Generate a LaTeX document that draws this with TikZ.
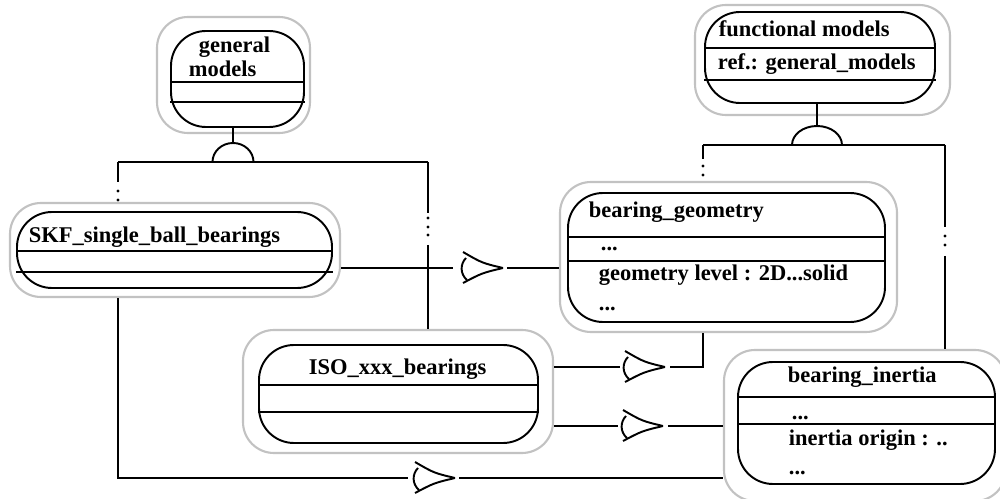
\documentclass[tikz,border=0pt]{standalone}
\usepackage{fontspec}
\setmainfont{Liberation Serif}
\usetikzlibrary{fit,calc}
\begin{document}
\begin{tikzpicture}[x=0.02cm,y=-0.02cm,
  line width=1.1pt,
  outbox/.style={draw=black!24, line width=1.2pt, rounded corners=0.62cm, inner sep=0pt, fit={#1}},
  inbox/.style={draw=black, line width=1.1pt, rounded corners=0.7cm, inner sep=0pt, fit={#1}},
  lbl/.style={anchor=base west, inner sep=0pt, font=\fontsize{12.8}{15}\selectfont\bfseries},
  pics/joint/.style={code={
    \draw (-40,-16) .. controls (-21,-5) .. (0,0);
    \draw (-40,15) .. controls (-21,5) .. (0,0);
    \draw (-37,-10) .. controls (-43,-4) and (-43,6) .. (-36,12);
  }}
]
\useasboundingbox (0,0) rectangle (1000,499);

% ---- classes ----
% general models
\node[outbox={(157,17) (310,133)}] (genO) {};
\node[inbox={(171,31) (304,127)}] (gen) {};
\draw (gen.west |- 0,82) -- (gen.east |- 0,82);
\draw (gen.west |- 0,102) -- (gen.east |- 0,102);
\node[lbl] (genT1) at (198,53) {general};
\node[lbl] (genT2) at (188,77) {models};

% functional models
\node[outbox={(695,5) (950,115)}] (funO) {};
\node[inbox={(705,12) (935,103)}] (fun) {};
\draw (fun.west |- 0,48) -- (fun.east |- 0,48);
\draw (fun.west |- 0,80) -- (fun.east |- 0,80);
\node[lbl] (funT1) at (718,37) {functional models};
\node[lbl] (funT2) at (717,70) {ref.: general\_models};

% SKF single ball bearings
\node[outbox={(10,203) (340,297)}] (skfO) {};
\node[inbox={(17,212) (332,288)}] (skf) {};
\draw (skf.west |- 0,251) -- (skf.east |- 0,251);
\draw (skf.west |- 0,272) -- (skf.east |- 0,272);
\node[lbl] (skfT) at (28,243) {SKF\_single\_ball\_bearings};

% bearing geometry
\node[outbox={(560,182) (897,332)}] (geoO) {};
\node[inbox={(568,193) (885,322)}] (geo) {};
\draw (geo.west |- 0,237) -- (geo.east |- 0,237);
\draw (geo.west |- 0,261) -- (geo.east |- 0,261);
\node[lbl] (geoT1) at (588,218) {bearing\_geometry};
\node[lbl] (geoT2) at (600,251) {...};
\node[lbl] (geoT3) at (598,281) {geometry level : 2D...solid};
\node[lbl] (geoT4) at (598,311) {...};

% ISO bearings
\node[outbox={(243,330) (553,453)}] (isoO) {};
\node[inbox={(259,345) (538,443)}] (iso) {};
\draw (iso.west |- 0,385) -- (iso.east |- 0,385);
\draw (iso.west |- 0,412) -- (iso.east |- 0,412);
\node[lbl] (isoT) at (308,375) {ISO\_xxx\_bearings};

% bearing inertia
\node[outbox={(724,350) (1006,501)}] (inO) {};
\node[inbox={(738,362) (995,484)}] (ine) {};
\draw (ine.west |- 0,397) -- (ine.east |- 0,397);
\draw (ine.west |- 0,424) -- (ine.east |- 0,424);
\node[lbl] (ineT1) at (787,383) {bearing\_inertia};
\node[lbl] (ineT2) at (791,419) {...};
\node[lbl] (ineT3) at (788,445) {inertia origin : ..};
\node[lbl] (ineT4) at (788,474) {...};

% ---- specialisation from general models ----
\coordinate (gJ) at (233,162);
\coordinate (gL) at (118,162);
\coordinate (gR) at (428,162);
\draw (gJ |- gen.south) -- (233,143);
\draw (212.5,162) arc[start angle=180,end angle=0,x radius=0.41cm,y radius=0.38cm];
\draw (gL) -- (gR);
\draw (gL) -- (118,182);
\foreach \yy in {191,200} \fill (118,\yy) circle[radius=0.9pt];
\draw (gR) -- (428,213);
\foreach \yy in {218,227,235} \fill (428,\yy) circle[radius=0.9pt];
\draw (428,245) -- (isoO.north -| gR);

% ---- specialisation from functional models ----
\coordinate (fJ) at (817,145);
\coordinate (fL) at (703,145);
\coordinate (fR) at (945,145);
\draw (fJ |- fun.south) -- (817,126);
\draw (792,145) arc[start angle=180,end angle=0,x radius=0.5cm,y radius=0.38cm];
\draw (fL) -- (fR);
\draw (fL) -- (703,159);
\foreach \yy in {166,175} \fill (703,\yy) circle[radius=0.9pt];
\draw (fR) -- (945,227);
\foreach \yy in {236,245} \fill (945,\yy) circle[radius=0.9pt];
\draw (945,256) -- (inO.north -| fR);

% ---- associations ----
% SKF -> geometry
\coordinate (a1) at (503,268);
\draw (skfO.east |- a1) -- (453,268);
\pic at (a1) {joint};
\draw (507,268) -- (geoO.west |- a1);

% ISO -> geometry
\coordinate (a2) at (665,367);
\coordinate (c2) at (703,367);
\draw (isoO.east |- a2) -- (620,367);
\pic at (a2) {joint};
\draw (670,367) -- (c2) -- (c2 |- geoO.south);

% ISO -> inertia
\coordinate (a3) at (663,426);
\draw (isoO.east |- a3) -- (618,426);
\pic at (a3) {joint};
\draw (668,426) -- (inO.west |- a3);

% SKF -> inertia
\coordinate (c4) at (118,478);
\coordinate (a4) at (455,478);
\draw (skfO.south -| c4) -- (c4) -- (408,478);
\pic at (a4) {joint};
\draw (459,478) -- (inO.west |- a4);
\end{tikzpicture}
\end{document}
